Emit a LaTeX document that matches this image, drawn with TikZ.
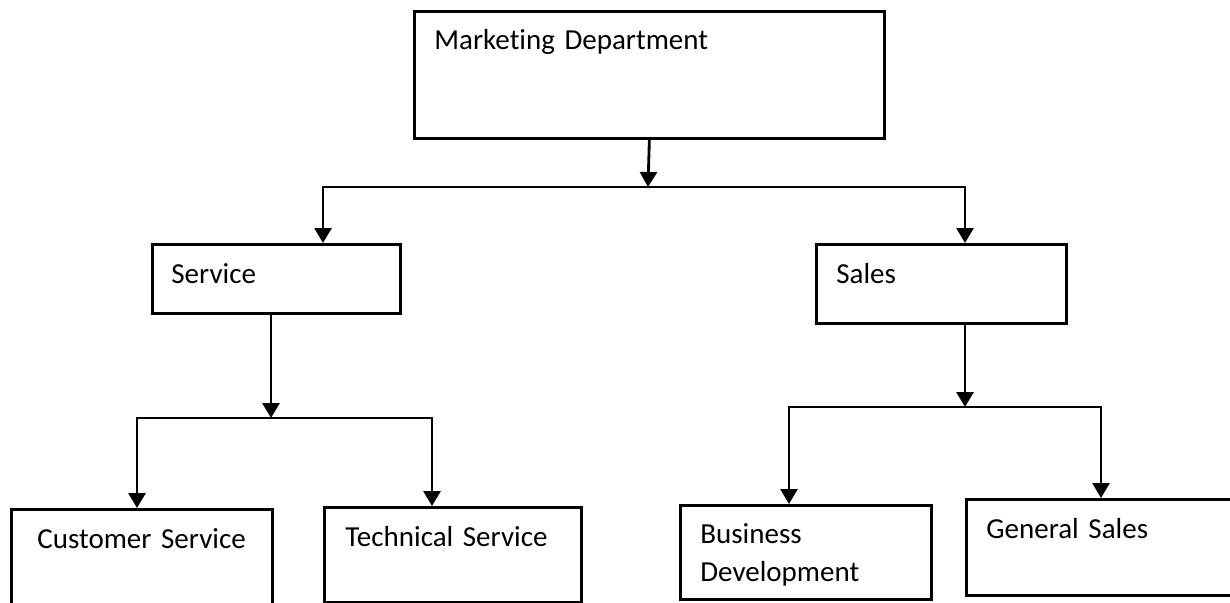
\documentclass[tikz,border=0pt]{standalone}
\usepackage{fontspec}
\setmainfont{Carlito}[Ligatures=NoCommon]
\usetikzlibrary{arrows.meta}
\tikzset{unit box/.style={draw,line width=1.6pt,anchor=north west,align=left,
		inner ysep=0pt,font=\fontsize{16.5pt}{21.5pt}\selectfont}}
\tikzset{org link/.style={line width=1.6pt,line join=miter},
		 org arrow/.style={org link,-{Triangle[length=0.3cm,width=0.34cm]}}}

\begin{document}
\begin{tikzpicture}[x=0.02cm,y=-0.02cm]
	\useasboundingbox (0,0) rectangle (1230,602);
	\node[unit box,inner xsep=0.4cm,text width=8.6cm,text height=0.76cm,text depth=1.78cm]
		(mkt) at (413,10) {Marketing Department};
	\node[unit box,inner xsep=0.38cm,text width=4.2cm,text height=0.78cm,text depth=0.6cm]
		(svc) at (151,243) {Service};
	\node[unit box,inner xsep=0.4cm,text width=4.2cm,text height=0.78cm,text depth=0.8cm]
		(sal) at (815,243) {Sales};
	\node[unit box,inner xsep=0.52cm,text width=4.18cm,text height=0.78cm,text depth=1.46cm]
		(cus) at (10,508) {Customer Service};
	\node[unit box,inner xsep=0.42cm,text width=4.3cm,text height=0.78cm,text depth=1.12cm]
		(tec) at (323,506) {Technical Service};
	\node[unit box,inner xsep=0.4cm,text width=4.22cm,text height=0.76cm,text depth=1.12cm]
		(bus) at (679,504) {Business\\Development};
	\node[unit box,inner xsep=0.4cm,text width=5cm,text height=0.78cm,text depth=1.14cm]
		(gen) at (965,498) {General Sales};
	% forks
	\coordinate (top fork) at (648,187);
	\coordinate (svc in) at (323,187);
	\coordinate (sal in) at (965,187);
	\coordinate (svc fork) at (271,418);
	\coordinate (cus in) at (137,418);
	\coordinate (tec in) at (432,418);
	\coordinate (sal fork) at (965,407);
	\coordinate (bus in) at (789,407);
	\coordinate (gen in) at (1101,407);
	\draw[org arrow] (mkt.south) -- (top fork);
	\draw[org arrow] (top fork) -- (svc in) -- (svc in |- svc.north);
	\draw[org arrow] (top fork) -- (sal in) -- (sal in |- sal.north);
	\draw[org arrow] (svc fork |- svc.south) -- (svc fork);
	\draw[org arrow] (svc fork) -- (cus in) -- (cus in |- cus.north);
	\draw[org arrow] (svc fork) -- (tec in) -- (tec in |- tec.north);
	\draw[org arrow] (sal fork |- sal.south) -- (sal fork);
	\draw[org arrow] (sal fork) -- (bus in) -- (bus in |- bus.north);
	\draw[org arrow] (sal fork) -- (gen in) -- (gen in |- gen.north);
\end{tikzpicture}
\end{document}
